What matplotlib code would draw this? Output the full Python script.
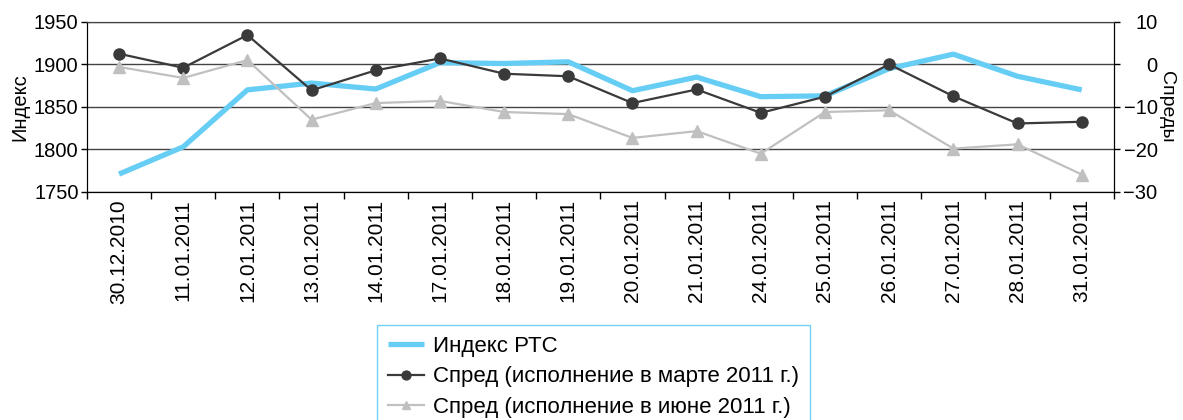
import matplotlib.pyplot as plt
import numpy as np

plt.rcParams['font.family'] = ['Liberation Sans', 'DejaVu Sans']

dates = ['30.12.2010', '11.01.2011', '12.01.2011', '13.01.2011', '14.01.2011',
         '17.01.2011', '18.01.2011', '19.01.2011', '20.01.2011', '21.01.2011',
         '24.01.2011', '25.01.2011', '26.01.2011', '27.01.2011', '28.01.2011',
         '31.01.2011']
rts = [1771, 1803, 1870, 1878, 1871, 1902, 1901, 1903, 1869, 1885,
       1862, 1863, 1895, 1912, 1886, 1870]
spread_mar = [2.5, -0.8, 6.9, -6.1, -1.4, 1.4, -2.2, -2.8, -9.1, -5.9,
              -11.4, -7.6, 0.0, -7.5, -13.9, -13.5]
spread_jun = [-0.6, -3.2, 1.0, -13.0, -9.1, -8.6, -11.2, -11.7, -17.3, -15.7,
              -21.0, -11.2, -10.8, -19.8, -18.8, -25.9]

left_ticks = [1750, 1800, 1850, 1900, 1950]
right_ticks = [-30, -20, -10, 0, 10]
right_labels = ['\u221230', '\u221220', '\u221210', '0', '10']

fs = 14.5
fig = plt.figure(figsize=(11.83, 4.2), dpi=100)
ax = fig.add_axes([0.0735, 0.543, 0.868, 0.405])
ax2 = ax.twinx()

x = np.arange(len(dates))

l1, = ax.plot(x, rts, color='#66cdf5', lw=3.8, solid_capstyle='butt',
              label='Индекс РТС')
l2, = ax2.plot(x, spread_mar, color='#3a3a3a', lw=1.6, marker='o', ms=8,
               label='Спред (исполнение в марте 2011 г.)')
l3, = ax2.plot(x, spread_jun, color='#c0c0c0', lw=1.6, marker='^', ms=8,
               label='Спред (исполнение в июне 2011 г.)')

ax.set_xlim(-0.5, len(dates) - 0.5)
ax.set_ylim(1750, 1950)
ax2.set_ylim(-30, 10)

ax.set_yticks(left_ticks)
ax.tick_params(axis='y', labelsize=fs, length=4, width=1, pad=2)
ax2.set_yticks(right_ticks)
ax2.set_yticklabels(right_labels)
ax2.tick_params(axis='y', labelsize=fs, length=4, width=1, pad=27.5)
for t in ax2.get_yticklabels():
    t.set_horizontalalignment('right')

ax.set_xticks(x)
ax.set_xticklabels(dates, rotation=90, fontsize=15)
ax.set_xticks(np.arange(len(dates) + 1) - 0.5, minor=True)
ax.tick_params(axis='x', which='major', length=0, pad=5)
ax.tick_params(axis='x', which='minor', length=5, width=1)

ax.grid(axis='y', color='#444444', lw=1)
ax.set_axisbelow(True)
for a in (ax, ax2):
    a.spines['top'].set_color('#444444')
    a.spines['left'].set_color('black')
    a.spines['right'].set_color('black')
    a.spines['bottom'].set_color('black')

ax.set_ylabel('Индекс', fontsize=fs, labelpad=3)
ax2.set_ylabel('Спреды', fontsize=14, rotation=270, va='bottom', labelpad=0)

leg = fig.legend(handles=[l1, l2, l3], loc='upper left',
                 bbox_to_anchor=(377 / 1183, 1 - 325 / 420),
                 fontsize=16, frameon=True, fancybox=False,
                 handlelength=1.6, handletextpad=0.4, borderpad=0.5,
                 labelspacing=0.42, borderaxespad=0, markerscale=0.8)
leg.get_frame().set_edgecolor('#4fc3f7')
leg.get_frame().set_linewidth(1)

fig.savefig('out.png', dpi=100)
